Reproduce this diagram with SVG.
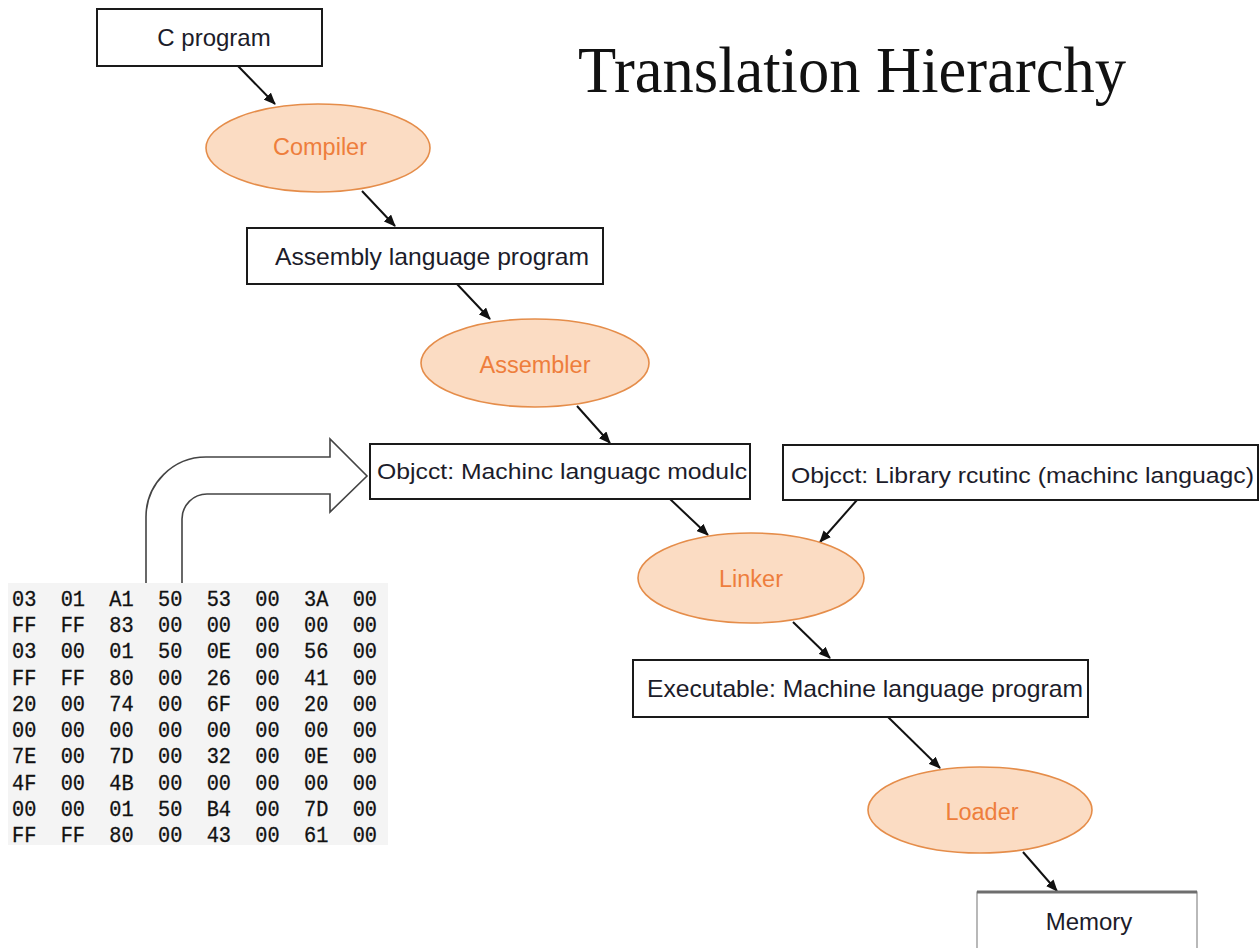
<svg xmlns="http://www.w3.org/2000/svg" width="1260" height="948" viewBox="0 0 1260 948">
  <style>
    .box { fill: #ffffff; stroke: #1a1a1a; stroke-width: 2; }
    .oval { fill: #fbdcc3; stroke: #e58d4a; stroke-width: 1.6; }
    .btxt { font-family: "Liberation Sans", Arial, sans-serif; font-size: 24px; fill: #1c1c2a; text-anchor: middle; }
    .otxt { font-family: "Liberation Sans", Arial, sans-serif; font-size: 23.5px; fill: #ee7e3c; text-anchor: middle; }
    .gtxt { font-family: "Liberation Sans", Arial, sans-serif; font-size: 22px; fill: #1c1c2a; }
    .hex { font-family: "Liberation Mono", "Courier New", monospace; font-size: 22px; fill: #111; stroke: #111; stroke-width: 0.3; }
    .conn { stroke: #111; stroke-width: 2; fill: none; marker-end: url(#arr); }
  </style>
  <defs>
    <marker id="arr" markerUnits="userSpaceOnUse" markerWidth="12" markerHeight="10" viewBox="0 0 12 10" refX="11" refY="5" orient="auto">
      <path d="M0,0 L12,5 L0,10 z" fill="#111"/>
    </marker>
  </defs>
  <rect width="1260" height="948" fill="#ffffff"/>

  <text id="title" x="578" y="92" font-family="'Liberation Serif', 'Times New Roman', serif" font-size="66" fill="#111" textLength="548" lengthAdjust="spacingAndGlyphs">Translation Hierarchy</text>

  <g id="connectors">
    <line class="conn" x1="238" y1="66" x2="275" y2="104"/>
    <line class="conn" x1="362" y1="191" x2="395" y2="226"/>
    <line class="conn" x1="457" y1="284" x2="490" y2="319"/>
    <line class="conn" x1="577" y1="406" x2="610" y2="443"/>
    <line class="conn" x1="670" y1="499" x2="708" y2="535"/>
    <line class="conn" x1="857" y1="500" x2="820" y2="542"/>
    <line class="conn" x1="793" y1="622" x2="830" y2="658"/>
    <line class="conn" x1="888" y1="717" x2="940" y2="768"/>
    <line class="conn" x1="1023" y1="852" x2="1057" y2="891"/>
  </g>

  <g id="c-program">
    <rect class="box" x="97" y="9" width="225" height="57"/>
    <text class="btxt" x="214" y="46">C program</text>
  </g>
  <g id="compiler">
    <ellipse class="oval" cx="318" cy="148" rx="112" ry="44"/>
    <text class="otxt" x="320" y="155">Compiler</text>
  </g>
  <g id="assembly-program">
    <rect class="box" x="247" y="228" width="356" height="56"/>
    <text class="btxt" x="432" y="265" textLength="314" lengthAdjust="spacingAndGlyphs">Assembly language program</text>
  </g>
  <g id="assembler">
    <ellipse class="oval" cx="535" cy="363" rx="114" ry="44"/>
    <text class="otxt" x="535" y="373">Assembler</text>
  </g>
  <g id="object-module">
    <rect class="box" x="370" y="444" width="380" height="55"/>
    <text class="gtxt" x="377" y="479" textLength="370" lengthAdjust="spacingAndGlyphs">Objcct: Machinc languagc modulc</text>
  </g>
  <g id="object-library">
    <rect class="box" x="783" y="445" width="475" height="55"/>
    <text class="gtxt" x="791" y="483" textLength="463" lengthAdjust="spacingAndGlyphs">Objcct: Library rcutinc (machinc languagc)</text>
  </g>
  <g id="linker">
    <ellipse class="oval" cx="751" cy="578" rx="113" ry="45"/>
    <text class="otxt" x="751" y="587">Linker</text>
  </g>
  <g id="executable">
    <rect class="box" x="633" y="660" width="455" height="57"/>
    <text class="btxt" x="865" y="697" textLength="436" lengthAdjust="spacingAndGlyphs">Executable: Machine language program</text>
  </g>
  <g id="loader">
    <ellipse class="oval" cx="980" cy="810" rx="112" ry="43"/>
    <text class="otxt" x="982" y="820">Loader</text>
  </g>
  <g id="memory">
    <rect x="977" y="892" width="220" height="60" fill="#ffffff" stroke="#8a8a8a" stroke-width="1.2"/>
    <line x1="977" y1="892" x2="1197" y2="892" stroke="#6e6e6e" stroke-width="3"/>
    <text class="btxt" x="1089" y="930">Memory</text>
  </g>

  <g id="bent-arrow">
    <path d="M146,590 L146,517 A60,60 0 0 1 206,457 L330,457 L330,439 L367,476 L330,512 L330,494 L207,494 A25,25 0 0 0 182,519 L182,590" fill="#ffffff" stroke="#444" stroke-width="1.6"/>
  </g>

  <g id="hex-dump">
    <rect x="8" y="583" width="380" height="262" fill="#f4f4f4"/>
    <text class="hex" xml:space="preserve" x="12" y="606" textLength="365" lengthAdjust="spacingAndGlyphs">03  01  A1  50  53  00  3A  00</text>
    <text class="hex" xml:space="preserve" x="12" y="632" textLength="365" lengthAdjust="spacingAndGlyphs">FF  FF  83  00  00  00  00  00</text>
    <text class="hex" xml:space="preserve" x="12" y="658" textLength="365" lengthAdjust="spacingAndGlyphs">03  00  01  50  0E  00  56  00</text>
    <text class="hex" xml:space="preserve" x="12" y="685" textLength="365" lengthAdjust="spacingAndGlyphs">FF  FF  80  00  26  00  41  00</text>
    <text class="hex" xml:space="preserve" x="12" y="711" textLength="365" lengthAdjust="spacingAndGlyphs">20  00  74  00  6F  00  20  00</text>
    <text class="hex" xml:space="preserve" x="12" y="737" textLength="365" lengthAdjust="spacingAndGlyphs">00  00  00  00  00  00  00  00</text>
    <text class="hex" xml:space="preserve" x="12" y="763" textLength="365" lengthAdjust="spacingAndGlyphs">7E  00  7D  00  32  00  0E  00</text>
    <text class="hex" xml:space="preserve" x="12" y="790" textLength="365" lengthAdjust="spacingAndGlyphs">4F  00  4B  00  00  00  00  00</text>
    <text class="hex" xml:space="preserve" x="12" y="816" textLength="365" lengthAdjust="spacingAndGlyphs">00  00  01  50  B4  00  7D  00</text>
    <text class="hex" xml:space="preserve" x="12" y="842" textLength="365" lengthAdjust="spacingAndGlyphs">FF  FF  80  00  43  00  61  00</text>
  </g>
</svg>
